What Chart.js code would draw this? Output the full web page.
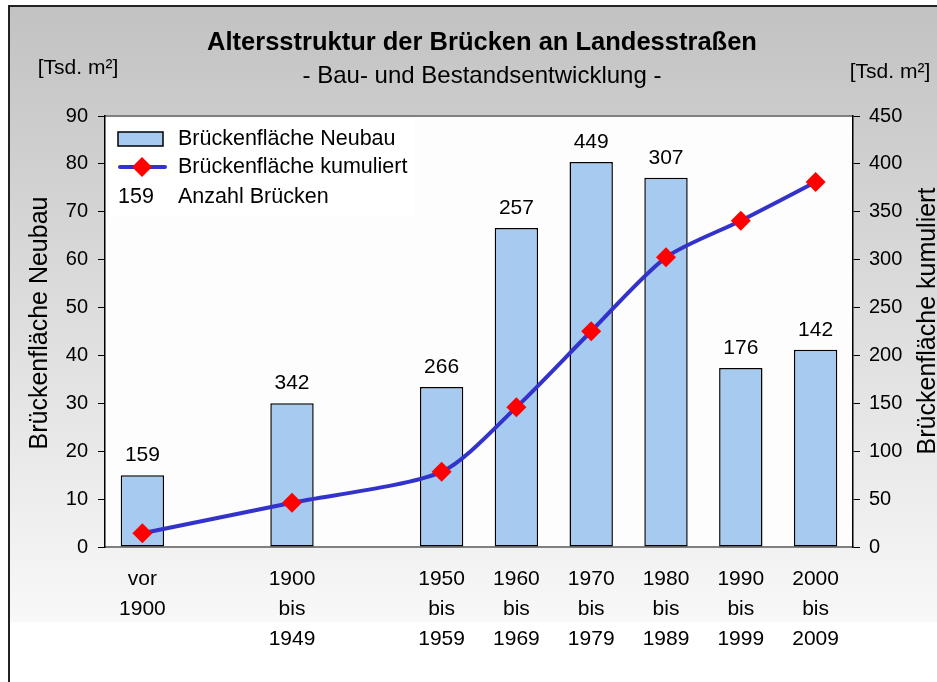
<!DOCTYPE html>
<html>
<head>
<meta charset="utf-8">
<script src="https://cdn.jsdelivr.net/npm/chart.js@4.4.1/dist/chart.umd.min.js"></script>
<style>
  body { margin: 0; background: #fff; }
  canvas { display: block; }
</style>
</head>
<body>
<canvas id="chart" width="937" height="682"></canvas>
<script>
// Daten
const categories = [
  ['vor', '1900'], '', ['1900', 'bis', '1949'], '',
  ['1950', 'bis', '1959'], ['1960', 'bis', '1969'], ['1970', 'bis', '1979'],
  ['1980', 'bis', '1989'], ['1990', 'bis', '1999'], ['2000', 'bis', '2009']
];
const neubau = [15.0, null, 30.0, null, 33.4, 66.6, 80.4, 77.1, 37.4, 41.2];
const kumuliert = [14.4, null, 46.2, null, 78.5, 146, 225.3, 302.4, 340.6, 381];
const anzahl = [159, null, 342, null, 266, 257, 449, 307, 176, 142];
const leftAxis = { min: 0, max: 90, step: 10 };
const rightAxis = { min: 0, max: 450, step: 50 };

const FONT = '"Liberation Sans", Arial, sans-serif';

// Hintergrund, Rahmen, Plotfläche
const backgroundPlugin = {
  id: 'background',
  beforeDraw(chart) {
    const ctx = chart.ctx;
    const a = chart.chartArea;
    ctx.save();
    const g = ctx.createLinearGradient(0, 6, 0, 622);
    g.addColorStop(0, '#c2c2c2');
    g.addColorStop(1, '#f8f8f8');
    ctx.fillStyle = g;
    ctx.fillRect(9, 6, 937 - 9, 616);
    ctx.strokeStyle = '#222';
    ctx.lineWidth = 2;
    ctx.beginPath();
    ctx.moveTo(9, 682);
    ctx.lineTo(9, 6);
    ctx.lineTo(937, 6);
    ctx.stroke();
    ctx.fillStyle = '#fdfdfd';
    ctx.fillRect(a.left, a.top, a.right - a.left, a.bottom - a.top);
    ctx.strokeStyle = '#808080';
    ctx.lineWidth = 2;
    ctx.beginPath();
    ctx.moveTo(a.left, a.top);
    ctx.lineTo(a.right, a.top);
    ctx.stroke();
    ctx.restore();
  }
};

// Titel, Einheiten, Achsentitel, Legende, Anzahl-Beschriftung
const textPlugin = {
  id: 'texts',
  afterDraw(chart) {
    const ctx = chart.ctx;
    ctx.save();
    ctx.fillStyle = '#000';
    ctx.textAlign = 'center';
    ctx.textBaseline = 'middle';
    ctx.font = 'bold 25.5px ' + FONT;
    ctx.fillText('Altersstruktur der Brücken an Landesstraßen', 482, 43);
    ctx.font = '24px ' + FONT;
    ctx.fillText('- Bau- und Bestandsentwicklung -', 482, 76);
    ctx.font = '21px ' + FONT;
    ctx.fillText('[Tsd. m²]', 78, 68);
    ctx.fillText('[Tsd. m²]', 890, 72);

    ctx.font = '25px ' + FONT;
    ctx.save();
    ctx.translate(40, 323);
    ctx.rotate(-Math.PI / 2);
    ctx.fillText('Brückenfläche Neubau', 0, 0);
    ctx.restore();
    ctx.save();
    ctx.translate(928, 321);
    ctx.rotate(-Math.PI / 2);
    ctx.fillText('Brückenfläche kumuliert', 0, 0);
    ctx.restore();

    // Anzahl Brücken über den Balken
    ctx.font = '21px ' + FONT;
    ctx.textBaseline = 'alphabetic';
    const bars = chart.getDatasetMeta(0).data;
    bars.forEach((bar, i) => {
      if (anzahl[i] == null) return;
      ctx.fillText(String(anzahl[i]), bar.x, bar.y - 14);
    });

    // Legende
    const bar = chart.data.datasets[0];
    const line = chart.data.datasets[1];
    ctx.fillStyle = '#fff';
    ctx.fillRect(109, 119, 305, 98);
    ctx.textAlign = 'left';
    ctx.textBaseline = 'middle';
    ctx.fillStyle = bar.backgroundColor;
    ctx.fillRect(118, 132, 45, 14);
    ctx.strokeStyle = bar.borderColor;
    ctx.lineWidth = 1.5;
    ctx.strokeRect(118, 132, 45, 14);
    ctx.strokeStyle = line.borderColor;
    ctx.lineWidth = 4;
    ctx.lineCap = 'round';
    ctx.beginPath();
    ctx.moveTo(120, 167);
    ctx.lineTo(165, 167);
    ctx.stroke();
    ctx.fillStyle = line.pointBackgroundColor;
    ctx.beginPath();
    ctx.moveTo(142, 157);
    ctx.lineTo(152, 167);
    ctx.lineTo(142, 177);
    ctx.lineTo(132, 167);
    ctx.closePath();
    ctx.fill();
    ctx.fillStyle = '#000';
    ctx.font = '21.5px ' + FONT;
    ctx.fillText(bar.label, 178, 139);
    ctx.fillText(line.label, 178, 167);
    ctx.fillText(String(anzahl[0]), 118, 197);
    ctx.fillText('Anzahl Brücken', 178, 197);
    ctx.restore();
  }
};

const ctx = document.getElementById('chart').getContext('2d');
new Chart(ctx, {
  data: {
    labels: categories,
    datasets: [
      {
        type: 'bar',
        label: 'Brückenfläche Neubau',
        data: neubau,
        yAxisID: 'y',
        backgroundColor: '#a6caf0',
        borderColor: '#000',
        borderWidth: 1.5,
        borderSkipped: false,
        barPercentage: 0.58,
        categoryPercentage: 1,
        order: 1
      },
      {
        type: 'line',
        label: 'Brückenfläche kumuliert',
        data: kumuliert,
        yAxisID: 'y2',
        borderColor: '#3333cc',
        borderWidth: 4,
        tension: 0.25,
        spanGaps: true,
        pointStyle: 'rectRot',
        pointRadius: 10,
        pointBackgroundColor: '#ff0000',
        pointBorderColor: '#ff0000',
        pointBorderWidth: 0,
        order: 0
      }
    ]
  },
  options: {
    responsive: false,
    animation: false,
    layout: { padding: { top: 116, left: 0, right: 0, bottom: 0 } },
    plugins: {
      legend: { display: false },
      title: { display: false },
      tooltip: { enabled: false }
    },
    scales: {
      x: {
        grid: { display: true, drawOnChartArea: false, drawTicks: false },
        border: { color: '#808080', width: 2 },
        ticks: {
          color: '#000',
          font: { family: FONT, size: 21, lineHeight: 1.43 },
          padding: 17,
          maxRotation: 0,
          autoSkip: false
        },
        afterFit(scale) { scale.height = 682 - 547; }
      },
      y: {
        position: 'left',
        min: leftAxis.min,
        max: leftAxis.max,
        grid: { display: true, drawOnChartArea: false, tickLength: 7, color: '#000' },
        border: { color: '#000', width: 1.5 },
        ticks: {
          stepSize: leftAxis.step,
          color: '#000',
          font: { family: FONT, size: 20 },
          padding: 10
        },
        afterFit(scale) { scale.width = 105; }
      },
      y2: {
        position: 'right',
        min: rightAxis.min,
        max: rightAxis.max,
        grid: { display: true, drawOnChartArea: false, tickLength: 7, color: '#000' },
        border: { color: '#000', width: 1.5 },
        ticks: {
          stepSize: rightAxis.step,
          color: '#000',
          font: { family: FONT, size: 20 },
          padding: 9
        },
        afterFit(scale) { scale.width = 937 - 853; }
      }
    }
  },
  plugins: [backgroundPlugin, textPlugin]
});
</script>
</body>
</html>
